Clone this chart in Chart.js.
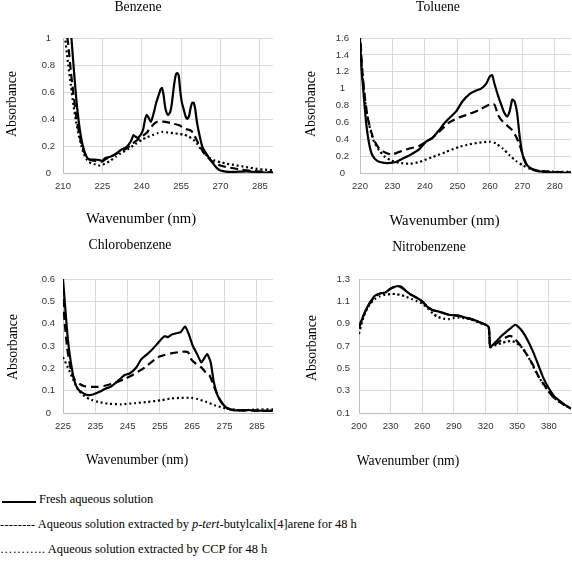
<!DOCTYPE html>
<html>
<head>
<meta charset="utf-8">
<script src="https://cdn.jsdelivr.net/npm/chart.js@4.4.1/dist/chart.umd.min.js"></script>
<style>
  html, body { margin: 0; padding: 0; background: #fff; }
  body { width: 572px; height: 572px; position: relative; overflow: hidden;
         font-family: "Liberation Serif", "Times New Roman", serif; color: #000; }
  canvas { position: absolute; }
  .lbl { position: absolute; line-height: 1; white-space: nowrap; transform: translate(-50%, -50%); }
  .rot { transform: translate(-50%, -50%) rotate(-90deg); }
  .legend { position: absolute; font-size: 12.4px; line-height: 1; white-space: nowrap; }
</style>
</head>
<body>
<canvas id="benzene" width="286" height="230" style="left:0;top:0"></canvas>
<canvas id="toluene" width="286" height="230" style="left:286px;top:0"></canvas>
<canvas id="chloro" width="286" height="230" style="left:0;top:230px"></canvas>
<canvas id="nitro" width="286" height="230" style="left:286px;top:230px"></canvas>

<div class="lbl" style="left:138px;top:7px;font-size:13.7px">Benzene</div>
<div class="lbl" style="left:438px;top:7px;font-size:13.7px">Toluene</div>
<div class="lbl" style="left:130px;top:245px;font-size:13.7px">Chlorobenzene</div>
<div class="lbl" style="left:429px;top:246.5px;font-size:13.7px">Nitrobenzene</div>

<div class="lbl rot" style="left:12px;top:104px;font-size:13.8px">Absorbance</div>
<div class="lbl rot" style="left:310.5px;top:104px;font-size:13.8px">Absorbance</div>
<div class="lbl rot" style="left:13px;top:346.5px;font-size:13.8px">Absorbance</div>
<div class="lbl rot" style="left:311.5px;top:347.5px;font-size:13.8px">Absorbance</div>

<div class="lbl" style="left:141px;top:217.5px;font-size:14.7px">Wavenumber (nm)</div>
<div class="lbl" style="left:444.5px;top:219.5px;font-size:14.7px">Wavenumber (nm)</div>
<div class="lbl" style="left:137px;top:460px;font-size:13.7px">Wavenumber (nm)</div>
<div class="lbl" style="left:408px;top:461px;font-size:13.7px">Wavenumber (nm)</div>

<div class="legend" style="left:2px;top:493px"><span style="display:inline-block;width:34px;border-bottom:2.5px solid #000;margin-right:3px"></span>Fresh aqueous solution</div>
<div class="legend" style="left:0;top:517.5px"><span style="letter-spacing:0.3px">--------</span> Aqueous solution extracted by <i>p-tert</i>-butylcalix[4]arene for 48 h</div>
<div class="legend" style="left:0;top:543px"><span style="letter-spacing:0.4px">………..</span> Aqueous solution extracted by CCP for 48 h</div>

<script>
// Benzene
const benzeneXTicks = [210, 225, 240, 255, 270, 285];
const benzeneYTicks = [0, 0.2, 0.4, 0.6, 0.8, 1];
const benzeneFreshX = [212, 213.2, 214, 215, 216, 217, 218, 219, 220, 222, 224, 225, 226, 228, 230, 232, 234, 235, 236, 236.8, 237.5, 238.5, 239.5, 240.5, 241.3, 241.9, 242.6, 243.5, 244.5, 245.5, 246.5, 247.2, 247.7, 248.3, 249, 250, 250.8, 251.5, 252.3, 253, 253.5, 254.1, 254.6, 255.3, 256, 256.7, 257.3, 258, 258.6, 259.2, 259.8, 260.4, 261, 262, 263, 264, 265, 266, 267, 268, 269, 270, 272, 275, 280, 285, 290];
const benzeneFresh = [1.25, 1.0, 0.80, 0.56, 0.38, 0.25, 0.17, 0.12, 0.10, 0.10, 0.095, 0.09, 0.11, 0.12, 0.14, 0.17, 0.19, 0.21, 0.24, 0.28, 0.27, 0.26, 0.28, 0.32, 0.40, 0.43, 0.41, 0.38, 0.44, 0.52, 0.58, 0.62, 0.63, 0.58, 0.48, 0.43, 0.45, 0.52, 0.65, 0.73, 0.74, 0.72, 0.62, 0.52, 0.47, 0.42, 0.40, 0.42, 0.48, 0.52, 0.52, 0.47, 0.38, 0.28, 0.20, 0.16, 0.13, 0.10, 0.075, 0.05, 0.03, 0.018, 0.01, 0.008, 0.012, 0.005, 0.0];
const benzeneCalixX = [211, 212, 213, 214, 215, 216, 217, 218, 219, 220, 222, 224, 225, 226, 228, 230, 232, 234, 236, 238, 240, 242, 243, 244, 245, 246, 247, 248, 250, 252, 254, 256, 257, 258, 259, 260, 261, 262, 263, 264, 265, 266, 267, 268, 270, 272, 275, 278, 282, 286, 290];
const benzeneCalix = [1.1, 0.95, 0.75, 0.58, 0.43, 0.31, 0.22, 0.16, 0.12, 0.10, 0.09, 0.085, 0.085, 0.10, 0.12, 0.14, 0.16, 0.18, 0.21, 0.24, 0.27, 0.30, 0.33, 0.35, 0.37, 0.38, 0.38, 0.38, 0.375, 0.365, 0.355, 0.335, 0.325, 0.32, 0.31, 0.28, 0.24, 0.20, 0.17, 0.14, 0.12, 0.10, 0.085, 0.07, 0.055, 0.045, 0.035, 0.025, 0.015, 0.01, 0.005];
const benzeneCcpX = [210.5, 212, 213, 214, 215, 216, 217, 218, 219, 220, 221, 222, 223, 224, 225, 226, 228, 230, 232, 235, 238, 240, 242, 244, 246, 248, 250, 252, 254, 256, 258, 259, 260, 261, 262, 263, 264, 265, 266, 268, 270, 272, 275, 278, 281, 284, 287, 290];
const benzeneCcp = [1.05, 0.80, 0.65, 0.50, 0.38, 0.28, 0.20, 0.14, 0.10, 0.08, 0.07, 0.065, 0.06, 0.055, 0.06, 0.07, 0.09, 0.12, 0.145, 0.18, 0.22, 0.245, 0.265, 0.28, 0.295, 0.305, 0.30, 0.295, 0.29, 0.285, 0.27, 0.255, 0.24, 0.22, 0.19, 0.165, 0.145, 0.125, 0.11, 0.09, 0.08, 0.07, 0.06, 0.05, 0.04, 0.03, 0.025, 0.02];

// Toluene
const tolueneXTicks = [220, 230, 240, 250, 260, 270, 280];
const tolueneYTicks = [0, 0.2, 0.4, 0.6, 0.8, 1, 1.2, 1.4, 1.6];
const tolueneFreshX = [220, 220.5, 221.2, 221.9, 222.8, 223.8, 225.4, 227.4, 229.5, 231, 233.1, 235.7, 238.2, 240.3, 242.4, 244.4, 246, 247.5, 249.6, 251.6, 253.9, 255.3, 257.3, 258.9, 259.9, 260.7, 261.4, 262.5, 263.5, 264.5, 265.3, 266.1, 266.9, 267.6, 268.4, 269.2, 270, 271, 272.3, 274.3, 279.5, 285];
const tolueneFresh = [1.6, 1.22, 0.90, 0.59, 0.35, 0.21, 0.14, 0.12, 0.12, 0.13, 0.17, 0.22, 0.28, 0.37, 0.42, 0.51, 0.59, 0.65, 0.73, 0.85, 0.94, 0.97, 1.0, 1.06, 1.14, 1.16, 1.06, 0.92, 0.81, 0.71, 0.67, 0.73, 0.87, 0.85, 0.71, 0.43, 0.23, 0.12, 0.063, 0.024, 0.008, 0.0];
const tolueneCalixX = [220.2, 220.7, 221.5, 222.3, 223.3, 224.3, 225.9, 227.9, 229.8, 232.1, 235.2, 238.2, 242.1, 244.4, 247.5, 250.6, 253.7, 256.8, 259.9, 261.4, 262.5, 263.5, 265.1, 266.6, 268.1, 269.2, 270.2, 271.2, 272.8, 275.4, 279.5, 285];
const tolueneCalix = [1.54, 1.22, 0.90, 0.67, 0.51, 0.39, 0.29, 0.24, 0.22, 0.25, 0.29, 0.32, 0.41, 0.49, 0.60, 0.66, 0.70, 0.75, 0.81, 0.81, 0.69, 0.63, 0.57, 0.52, 0.43, 0.33, 0.21, 0.11, 0.05, 0.024, 0.012, 0.008];
const tolueneCcpX = [220.2, 220.7, 221.5, 222.3, 223.3, 224.3, 225.9, 227.4, 229.5, 232.1, 235.2, 238.2, 242.4, 246.5, 250.6, 253.7, 256.8, 259.9, 261.9, 264, 266.1, 268.1, 270.2, 272.3, 275.4, 279.5, 285];
const tolueneCcp = [1.46, 1.18, 0.87, 0.67, 0.49, 0.37, 0.27, 0.20, 0.15, 0.12, 0.11, 0.13, 0.19, 0.25, 0.31, 0.34, 0.36, 0.37, 0.35, 0.29, 0.21, 0.14, 0.09, 0.05, 0.024, 0.016, 0.012];

// Chlorobenzene
const chloroXTicks = [225, 235, 245, 255, 265, 275, 285];
const chloroYTicks = [0, 0.1, 0.2, 0.3, 0.4, 0.5, 0.6];
const chloroFreshX = [225, 225.7, 226.5, 227.4, 228.4, 229.6, 231.2, 232.7, 234.3, 236.3, 237.9, 240, 242, 244.1, 245.6, 247.7, 249.2, 250.8, 252.3, 253.9, 255.4, 256.4, 257.5, 258.5, 260.1, 261.4, 262.8, 263.9, 265.2, 266.5, 267.8, 268.6, 269.6, 270.7, 271.7, 272.9, 274.5, 276, 278.1, 282.2, 286.3, 290];
const chloroFresh = [0.60, 0.47, 0.33, 0.23, 0.15, 0.107, 0.089, 0.08, 0.083, 0.095, 0.107, 0.12, 0.144, 0.17, 0.177, 0.204, 0.24, 0.26, 0.28, 0.305, 0.33, 0.344, 0.34, 0.35, 0.357, 0.362, 0.387, 0.354, 0.30, 0.264, 0.227, 0.242, 0.264, 0.227, 0.137, 0.077, 0.039, 0.02, 0.012, 0.0135, 0.01, 0.01];
const chloroCalixX = [225, 225.5, 226.3, 227.4, 228.6, 230.2, 231.7, 233.8, 235.8, 237.9, 240, 242, 244.1, 246.1, 248.2, 250.3, 252.3, 254.4, 256.4, 258.5, 260.6, 262.6, 263.7, 264.7, 266.2, 267.8, 269.3, 270.4, 271.7, 272.9, 274.5, 276, 278.1, 284.3, 290];
const chloroCalix = [0.51, 0.41, 0.29, 0.197, 0.15, 0.13, 0.12, 0.117, 0.117, 0.122, 0.13, 0.14, 0.152, 0.167, 0.185, 0.204, 0.227, 0.25, 0.26, 0.267, 0.272, 0.275, 0.272, 0.24, 0.22, 0.204, 0.18, 0.167, 0.12, 0.077, 0.039, 0.02, 0.012, 0.01, 0.01];
const chloroCcpX = [225, 226.5, 228.1, 229.6, 231.7, 233.8, 235.8, 238.9, 243, 247.2, 251.3, 255.4, 258.5, 261.6, 264.7, 266.8, 269.3, 271.9, 274.5, 277.1, 280.2, 284.3, 290];
const chloroCcp = [0.25, 0.204, 0.152, 0.107, 0.074, 0.059, 0.05, 0.042, 0.039, 0.044, 0.05, 0.057, 0.065, 0.068, 0.068, 0.062, 0.05, 0.035, 0.024, 0.017, 0.012, 0.015, 0.0165];

// Nitrobenzene
const nitroXTicks = [200, 230, 260, 290, 320, 350, 380];
const nitroYTicks = [0.1, 0.3, 0.5, 0.7, 0.9, 1.1, 1.3];
const nitroFreshX = [200, 202, 205, 208, 211, 215, 220, 225, 228, 232, 236, 240, 245, 250, 255, 260, 265, 270, 275, 280, 285, 290, 295, 300, 305, 310, 315, 320, 323, 324.5, 327, 330, 335, 340, 345, 348, 350, 355, 360, 365, 370, 375, 380, 385, 390, 395, 401];
const nitroFresh = [0.87, 0.92, 0.99, 1.05, 1.10, 1.15, 1.17, 1.18, 1.20, 1.225, 1.235, 1.23, 1.19, 1.155, 1.13, 1.10, 1.05, 1.02, 1.01, 0.995, 0.98, 0.975, 0.97, 0.957, 0.945, 0.93, 0.91, 0.89, 0.87, 0.69, 0.71, 0.74, 0.79, 0.83, 0.87, 0.89, 0.88, 0.83, 0.75, 0.65, 0.53, 0.41, 0.32, 0.25, 0.21, 0.175, 0.14];
const nitroCalixX = [200, 203, 206, 210, 215, 220, 225, 230, 235, 240, 245, 250, 255, 260, 265, 270, 275, 280, 285, 290, 295, 300, 305, 310, 315, 320, 323, 324.5, 330, 335, 340, 343, 346, 350, 355, 360, 365, 370, 375, 380, 385, 390, 395, 401];
const nitroCalix = [0.86, 0.94, 1.01, 1.08, 1.14, 1.17, 1.18, 1.215, 1.23, 1.225, 1.19, 1.155, 1.13, 1.10, 1.05, 1.02, 1.01, 0.995, 0.98, 0.975, 0.97, 0.955, 0.945, 0.93, 0.91, 0.89, 0.87, 0.69, 0.72, 0.755, 0.78, 0.79, 0.78, 0.74, 0.68, 0.61, 0.53, 0.43, 0.36, 0.29, 0.235, 0.20, 0.17, 0.14];
const nitroCcpX = [200, 203, 206, 210, 215, 220, 225, 230, 235, 240, 245, 250, 255, 260, 265, 270, 275, 280, 285, 290, 295, 300, 305, 310, 315, 320, 323, 324.5, 330, 335, 340, 344, 348, 352, 356, 360, 365, 370, 375, 380, 385, 390, 395, 401];
const nitroCcp = [0.81, 0.92, 1.0, 1.07, 1.12, 1.145, 1.16, 1.165, 1.165, 1.155, 1.14, 1.12, 1.10, 1.08, 1.04, 0.99, 0.96, 0.945, 0.94, 0.95, 0.955, 0.95, 0.94, 0.925, 0.905, 0.89, 0.87, 0.69, 0.71, 0.725, 0.74, 0.745, 0.735, 0.71, 0.67, 0.61, 0.52, 0.43, 0.355, 0.29, 0.235, 0.20, 0.17, 0.14];

Chart.defaults.font.family = "'Liberation Sans', Arial, sans-serif";

const pts = (xs, ys) => xs.map((x, i) => ({ x: x, y: ys[i] }));
const fmt = (v) => String(Math.round(v * 100) / 100);

function makePanel(id, p) {
  const line = (xs, ys, dash) => ({
    data: pts(xs, ys),
    borderColor: '#000',
    borderWidth: 2.2,
    borderDash: dash,
    pointRadius: 0,
    tension: 0.2,
    fill: false
  });
  return new Chart(document.getElementById(id), {
    type: 'line',
    data: {
      datasets: [
        line(p.freshX, p.fresh, []),
        line(p.calixX, p.calix, [8, 4.5]),
        line(p.ccpX, p.ccp, [2, 2.8])
      ]
    },
    options: {
      responsive: false,
      animation: false,
      devicePixelRatio: 1,
      layout: { padding: { top: p.padTop, right: p.padRight, left: 0, bottom: 0 } },
      plugins: { legend: { display: false }, tooltip: { enabled: false } },
      scales: {
        x: {
          type: 'linear',
          min: p.xMin,
          max: p.xMax,
          afterBuildTicks: (s) => { s.ticks = p.xTicks.map(v => ({ value: v })); },
          afterFit: (s) => { s.height = p.xHeight; },
          ticks: { padding: 8, maxRotation: 0, autoSkip: false, color: '#333', font: { size: 9.5 }, callback: fmt },
          grid: { color: '#d9d9d9', drawTicks: false },
          border: { color: '#bfbfbf' }
        },
        y: {
          type: 'linear',
          min: p.yMin,
          max: p.yMax,
          afterBuildTicks: (s) => { s.ticks = p.yTicks.map(v => ({ value: v })); },
          afterFit: (s) => { s.width = p.yWidth; },
          ticks: { padding: p.yPad, crossAlign: 'center', color: '#333', font: { size: 9.5 }, callback: fmt },
          grid: { color: '#d9d9d9', drawTicks: false },
          border: { color: '#bfbfbf' }
        }
      }
    }
  });
}

makePanel('benzene', {
  freshX: benzeneFreshX, fresh: benzeneFresh, calixX: benzeneCalixX, calix: benzeneCalix, ccpX: benzeneCcpX, ccp: benzeneCcp,
  xMin: 210, xMax: 290, yMin: 0, yMax: 1, xTicks: benzeneXTicks, yTicks: benzeneYTicks,
  padTop: 38, padRight: 13, yWidth: 63, xHeight: 57, yPad: 8
});
makePanel('toluene', {
  freshX: tolueneFreshX, fresh: tolueneFresh, calixX: tolueneCalixX, calix: tolueneCalix, ccpX: tolueneCcpX, ccp: tolueneCcp,
  xMin: 220, xMax: 285, yMin: 0, yMax: 1.6, xTicks: tolueneXTicks, yTicks: tolueneYTicks,
  padTop: 38, padRight: 1, yWidth: 74, xHeight: 57, yPad: 11
});
makePanel('chloro', {
  freshX: chloroFreshX, fresh: chloroFresh, calixX: chloroCalixX, calix: chloroCalix, ccpX: chloroCcpX, ccp: chloroCcp,
  xMin: 225, xMax: 290, yMin: 0, yMax: 0.6, xTicks: chloroXTicks, yTicks: chloroYTicks,
  padTop: 49, padRight: 13, yWidth: 63, xHeight: 47, yPad: 8
});
makePanel('nitro', {
  freshX: nitroFreshX, fresh: nitroFresh, calixX: nitroCalixX, calix: nitroCalix, ccpX: nitroCcpX, ccp: nitroCcp,
  xMin: 200, xMax: 401, yMin: 0.1, yMax: 1.3, xTicks: nitroXTicks, yTicks: nitroYTicks,
  padTop: 49, padRight: 1, yWidth: 73, xHeight: 47, yPad: 9
});
</script>
</body>
</html>
